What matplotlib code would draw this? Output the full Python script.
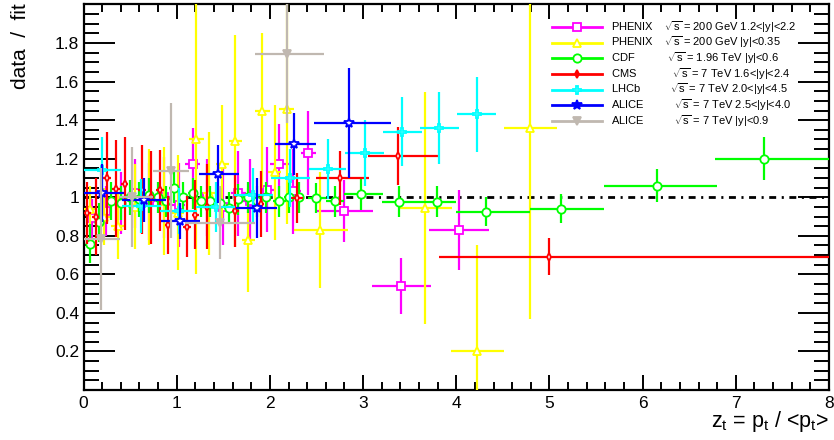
import matplotlib
matplotlib.use("Agg")
import matplotlib.pyplot as plt
from matplotlib.lines import Line2D
from matplotlib.ticker import MultipleLocator

plt.rcParams['font.family'] = ['Liberation Sans', 'DejaVu Sans']
plt.rcParams['mathtext.fontset'] = 'custom'
plt.rcParams['mathtext.rm'] = 'Liberation Sans'
plt.rcParams['mathtext.it'] = 'Liberation Sans:italic'
plt.rcParams['lines.scale_dashes'] = False

# PHENIX sqrt(s)=200 GeV, 1.2<|y|<2.2
phx_fwd_x = [0.09, 0.24, 0.40, 0.55, 0.70, 0.86, 1.02, 1.17, 1.32, 1.50, 1.66, 1.79, 1.97, 2.10, 2.25, 2.41, 2.80, 3.41, 4.03]
phx_fwd_y = [0.89, 0.93, 0.97, 1.02, 0.98, 1.00, 0.96, 1.17, 1.00, 0.95, 1.02, 0.98, 1.04, 1.17, 1.03, 1.23, 0.93, 0.54, 0.83]
phx_fwd_ey = [0.10, 0.13, 0.16, 0.18, 0.20, 0.21, 0.22, 0.19, 0.20, 0.20, 0.22, 0.22, 0.22, 0.21, 0.22, 0.22, 0.16, 0.145, 0.21]
phx_fwd_exl = [0.05, 0.06, 0.06, 0.07, 0.07, 0.07, 0.07, 0.08, 0.07, 0.08, 0.08, 0.08, 0.08, 0.10, 0.08, 0.08, 0.31, 0.31, 0.32]
phx_fwd_exh = [0.05, 0.06, 0.06, 0.07, 0.07, 0.07, 0.07, 0.08, 0.07, 0.08, 0.08, 0.08, 0.08, 0.10, 0.08, 0.08, 0.31, 0.32, 0.32]

# PHENIX sqrt(s)=200 GeV, |y|<0.35
phx_mid_x = [0.075, 0.22, 0.37, 0.55, 0.70, 0.86, 1.01, 1.21, 1.35, 1.49, 1.63, 1.77, 1.92, 2.05, 2.18, 2.54, 3.66, 4.22, 4.79]
phx_mid_y = [0.94, 0.90, 0.85, 0.95, 1.00, 0.98, 0.92, 1.30, 1.02, 1.17, 1.29, 0.78, 1.45, 1.13, 1.46, 0.83, 0.945, 0.20, 1.36]
phx_mid_ey = [0.12, 0.15, 0.17, 0.22, 0.25, 0.28, 0.30, 0.70, 0.32, 0.31, 0.55, 0.27, 0.40, 0.35, 0.60, 0.30, 0.60, 0.55, 0.99]
phx_mid_exl = [0.075, 0.07, 0.07, 0.07, 0.07, 0.07, 0.07, 0.08, 0.07, 0.07, 0.07, 0.07, 0.08, 0.07, 0.08, 0.28, 0.26, 0.28, 0.28]
phx_mid_exh = [0.07, 0.07, 0.07, 0.07, 0.07, 0.07, 0.07, 0.08, 0.07, 0.07, 0.07, 0.07, 0.08, 0.07, 0.08, 0.30, 0.29, 0.29, 0.29]

# CDF sqrt(s)=1.96 TeV, |y|<0.6
cdf_x = [0.075, 0.17, 0.30, 0.40, 0.50, 0.60, 0.70, 0.80, 0.88, 0.97, 1.07, 1.17, 1.26, 1.36, 1.46, 1.56, 1.66, 1.76, 1.86, 1.96, 2.10, 2.20, 2.31, 2.50, 2.70, 2.98, 3.39, 3.79, 4.32, 5.12, 6.15, 7.30]
cdf_y = [0.76, 0.87, 0.98, 0.97, 1.00, 0.99, 1.01, 1.00, 0.98, 1.05, 1.00, 1.02, 0.98, 0.98, 0.97, 0.945, 0.99, 1.00, 0.98, 1.00, 0.98, 1.00, 1.00, 0.996, 0.98, 1.015, 0.976, 0.976, 0.926, 0.94, 1.06, 1.20]
cdf_ey = [0.10, 0.10, 0.10, 0.09, 0.09, 0.09, 0.09, 0.08, 0.08, 0.08, 0.08, 0.08, 0.08, 0.08, 0.08, 0.08, 0.08, 0.08, 0.08, 0.08, 0.08, 0.08, 0.08, 0.08, 0.08, 0.08, 0.08, 0.08, 0.075, 0.075, 0.085, 0.11]
cdf_exl = [0.05, 0.05, 0.05, 0.05, 0.05, 0.05, 0.05, 0.04, 0.04, 0.05, 0.05, 0.05, 0.05, 0.05, 0.05, 0.05, 0.05, 0.05, 0.05, 0.05, 0.07, 0.05, 0.06, 0.09, 0.10, 0.18, 0.19, 0.18, 0.32, 0.33, 0.56, 0.52]
cdf_exh = [0.05, 0.05, 0.05, 0.05, 0.05, 0.05, 0.05, 0.04, 0.04, 0.05, 0.05, 0.05, 0.05, 0.05, 0.05, 0.05, 0.05, 0.05, 0.05, 0.05, 0.07, 0.05, 0.06, 0.10, 0.10, 0.23, 0.22, 0.21, 0.47, 0.47, 0.65, 0.90]

# CMS sqrt(s)=7 TeV, 1.6<|y|<2.4
cms_x = [0.04, 0.13, 0.25, 0.35, 0.44, 0.63, 0.72, 0.82, 0.91, 1.11, 1.20, 1.32, 1.63, 1.90, 2.29, 2.75, 3.38, 4.99]
cms_y = [0.92, 0.90, 1.10, 1.045, 1.07, 1.04, 1.00, 1.036, 0.856, 0.848, 0.91, 0.95, 0.93, 0.966, 0.996, 1.10, 1.215, 0.692]
cms_ey = [0.16, 0.20, 0.24, 0.25, 0.24, 0.23, 0.24, 0.21, 0.15, 0.16, 0.18, 0.22, 0.19, 0.17, 0.13, 0.14, 0.15, 0.095]
cms_exl = [0.04, 0.04, 0.04, 0.04, 0.04, 0.04, 0.04, 0.04, 0.04, 0.04, 0.04, 0.04, 0.04, 0.04, 0.07, 0.26, 0.33, 1.17]
cms_exh = [0.04, 0.04, 0.04, 0.04, 0.04, 0.04, 0.04, 0.04, 0.04, 0.04, 0.04, 0.04, 0.04, 0.04, 0.07, 0.31, 0.42, 3.20]

# LHCb sqrt(s)=7 TeV, 2.0<|y|<4.5
lhcb_x = [0.20, 0.62, 1.02, 1.42, 1.82, 2.22, 2.62, 3.02, 3.42, 3.82, 4.22]
lhcb_y = [1.14, 0.955, 0.93, 0.95, 1.01, 1.10, 1.145, 1.23, 1.34, 1.36, 1.43]
lhcb_ey = [0.17, 0.14, 0.12, 0.13, 0.14, 0.15, 0.155, 0.17, 0.18, 0.185, 0.195]
lhcb_ex = [0.20, 0.21, 0.20, 0.21, 0.21, 0.21, 0.20, 0.21, 0.21, 0.21, 0.21]

# ALICE sqrt(s)=7 TeV, 2.5<|y|<4.0
alf_x = [0.20, 0.65, 1.04, 1.44, 1.86, 2.26, 2.85]
alf_y = [1.02, 0.985, 0.877, 1.12, 0.945, 1.278, 1.385]
alf_ey = [0.15, 0.115, 0.095, 0.15, 0.155, 0.16, 0.285]
alf_exl = [0.20, 0.24, 0.21, 0.20, 0.22, 0.20, 0.38]
alf_exh = [0.23, 0.24, 0.21, 0.23, 0.22, 0.23, 0.45]

# ALICE sqrt(s)=7 TeV, |y|<0.9
alm_x = [0.19, 0.52, 0.94, 1.46, 2.18]
alm_y = [0.783, 1.0, 1.137, 0.868, 1.745]
alm_ey = [0.37, 0.26, 0.35, 0.19, 0.36]
alm_exl = [0.18, 0.13, 0.19, 0.37, 0.34]
alm_exh = [0.20, 0.23, 0.19, 0.38, 0.40]

fig = plt.figure(figsize=(8.34, 4.40), dpi=100)
ax = fig.add_axes([83.5 / 834, 50 / 440, (829 - 83.5) / 834, (390 - 4.5) / 440])

# reference line at data/fit = 1
ax.axhline(1.0, color='black', lw=2.0, linestyle=(0, (5, 4, 1.5, 4)), zorder=1)

sqs = r'$\sqrt{\mathrm{s}}$'
series = [
    (phx_fwd_x, phx_fwd_y, phx_fwd_exl, phx_fwd_exh, phx_fwd_ey, '#ff00ff', 's', 'white', 'white', 5.5,
     'PHENIX    ' + sqs + ' = 200 GeV 1.2<|y|<2.2'),
    (phx_mid_x, phx_mid_y, phx_mid_exl, phx_mid_exh, phx_mid_ey, '#ffff00', '^', 'white', 'white', 6,
     'PHENIX    ' + sqs + ' = 200 GeV |y|<0.35'),
    (cdf_x, cdf_y, cdf_exl, cdf_exh, cdf_ey, '#00ff00', 'o', 'white', 'white', 6,
     'CDF           ' + sqs + ' = 1.96 TeV |y|<0.6'),
    (cms_x, cms_y, cms_exl, cms_exh, cms_ey, '#ff0000', 'd', 'white', '#ff0000', 4,
     'CMS            ' + sqs + ' = 7 TeV 1.6<|y|<2.4'),
    (lhcb_x, lhcb_y, lhcb_ex, lhcb_ex, lhcb_ey, '#00ffff', 'P', 'white', 'white', 6,
     'LHCb          ' + sqs + ' = 7 TeV 2.0<|y|<4.5'),
    (alf_x, alf_y, alf_exl, alf_exh, alf_ey, '#0000ff', '*', 'white', '#0000ff', 7,
     'ALICE          ' + sqs + ' = 7 TeV 2.5<|y|<4.0'),
    (alm_x, alm_y, alm_exl, alm_exh, alm_ey, '#c0b8b0', 'v', '#c0b8b0', '#c0b8b0', 6,
     'ALICE          ' + sqs + ' = 7 TeV |y|<0.9'),
]

handles, labels = [], []
for i, (x, y, exl, exh, ey, col, mk, mfc, legfc, ms, lab) in enumerate(series):
    ax.errorbar(x, y, xerr=[exl, exh], yerr=ey, fmt=mk, color=col, ecolor=col,
                mfc=mfc, mec=col, mew=1.3, ms=ms, elinewidth=1.6, capsize=0,
                zorder=2 + i)
    handles.append(Line2D([], [], color=col, lw=2.0, marker=mk, mfc=legfc, mec=col,
                          mew=1.3, ms=ms))
    labels.append(lab)

ax.set_xlim(0, 8)
ax.set_ylim(0, 2.0)
ax.xaxis.set_major_locator(MultipleLocator(1))
ax.xaxis.set_minor_locator(MultipleLocator(0.2))
ax.yaxis.set_minor_locator(MultipleLocator(0.05))
ax.set_yticks([0.2, 0.4, 0.6, 0.8, 1.0, 1.2, 1.4, 1.6, 1.8])
ax.set_yticklabels(['0.2', '0.4', '0.6', '0.8', '1', '1.2', '1.4', '1.6', '1.8'])
ax.tick_params(axis='both', which='both', direction='in', top=True, right=True,
               width=1.4, labelsize=12.5, color='black')
ax.tick_params(axis='x', which='major', length=11, pad=4)
ax.tick_params(axis='x', which='minor', length=6)
ax.tick_params(axis='y', which='major', length=22, pad=3)
ax.tick_params(axis='y', which='minor', length=11)
for sp in ax.spines.values():
    sp.set_linewidth(1.6)

fig.text(20 / 834, 1 - 3 / 440, 'data  /  fit', rotation=90, ha='center', va='top', fontsize=15)
fig.text(829 / 834, 6 / 440, r'z$_\mathrm{t}$ = p$_\mathrm{t}$ / <p$_\mathrm{t}$>',
         ha='right', va='bottom', fontsize=15.5)

leg = ax.legend(handles, labels, loc='upper left', bbox_to_anchor=(0.628, 0.962),
                frameon=False, fontsize=8, handlelength=4.5, labelspacing=0.0,
                handletextpad=0.8, borderaxespad=0, borderpad=0)

fig.savefig('out.png', dpi=100)
